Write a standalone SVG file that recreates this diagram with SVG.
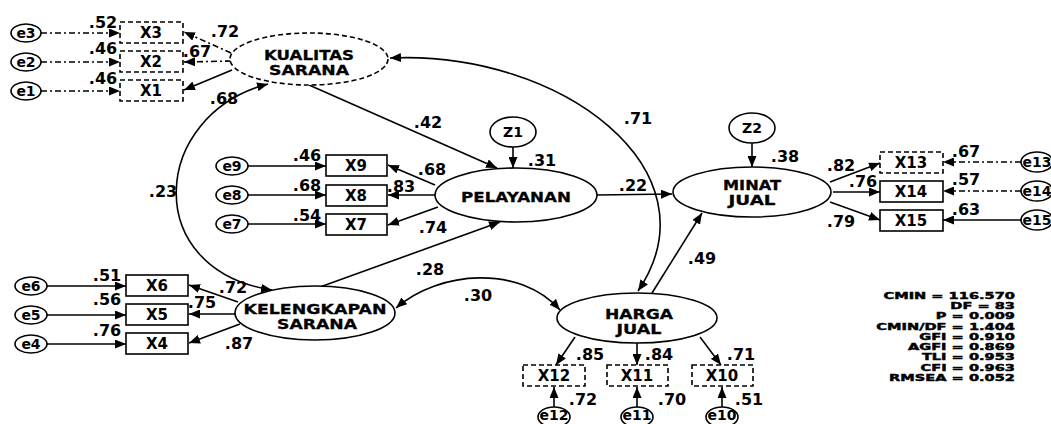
<svg xmlns="http://www.w3.org/2000/svg" width="1051" height="424" viewBox="0 0 1051 424">
<defs>
<marker id="ah" markerUnits="userSpaceOnUse" markerWidth="11" markerHeight="9" refX="11" refY="4.5" orient="auto-start-reverse">
<path d="M0,0 L11,4.5 L0,9 z" fill="#000"/>
</marker>
<style>
text{font-family:"DejaVu Sans","Liberation Sans",sans-serif;font-weight:bold;fill:#000;text-anchor:middle}
.lat{fill:#fff;stroke:#000;stroke-width:1.6}
.box{fill:#fff;stroke:#000;stroke-width:1.6}
.err{fill:#fff;stroke:#000;stroke-width:1.6}
.dash{stroke-dasharray:5 3}
.nl{font-size:14px;stroke:#000;stroke-width:0.3}
.bl{font-size:15px}
.el{font-size:14px}
.num{font-size:16px}
#conn path{fill:none;stroke:#000;stroke-width:1.6;marker-end:url(#ah)}
#conn path.dbl{marker-start:url(#ah)}
#conn path.d{stroke-dasharray:6 3 2 3}
#stats text{font-size:9px;text-anchor:end;stroke:#000;stroke-width:0.45}
</style>
</defs>
<rect width="1051" height="424" fill="#fff"/>

<g id="conn">
<path class="d" d="M41 33 L120 33"/>
<path class="d" d="M41 62 L120 62"/>
<path class="d" d="M41 91 L120 91"/>
<path class="d" d="M231 53 L184 32"/>
<path class="d" d="M231 61 L184 62"/>
<path d="M232 70 L184 90"/>
<path d="M309 85 L497 168"/>
<path d="M513 147 L513 168"/>
<path d="M248 166 L326 166"/>
<path d="M248 195 L326 195"/>
<path d="M248 224 L326 224"/>
<path d="M435 185 L388 165"/>
<path d="M435 195 L388 195"/>
<path d="M438 207 L388 225"/>
<path d="M597 195 L672 194"/>
<path d="M752 143 L752 167"/>
<path d="M830 182 L880 163"/>
<path d="M833 192 L880 192"/>
<path d="M830 202 L880 220"/>
<path class="d" d="M1021 162 L943 162"/>
<path class="d" d="M1021 191 L943 191"/>
<path d="M1021 220 L943 220"/>
<path d="M652 293 L702 213"/>
<path class="dbl" d="M390 58 C560 50 720 170 638 291"/>
<path class="dbl" d="M268 84 C150 115 140 270 272 290"/>
<path d="M320 287 L500 222"/>
<path class="dbl" d="M396 308 C440 270 520 265 560 310"/>
<path d="M238 302 L189 285"/>
<path d="M235 314 L189 314"/>
<path d="M240 324 L189 343"/>
<path d="M47 286 L126 286"/>
<path d="M47 315 L126 315"/>
<path d="M47 344 L126 344"/>
<path d="M575 337 L556 365"/>
<path d="M637 343 L637 365"/>
<path d="M700 337 L721 365"/>
<path d="M554 407 L554 387"/>
<path d="M637 407 L637 387"/>
<path d="M722 407 L722 387"/>
</g>

<g id="kualitas"><ellipse class="lat dash" cx="309" cy="59" rx="79" ry="26"/><text class="nl" x="309" y="60" textLength="90" lengthAdjust="spacingAndGlyphs">KUALITAS</text><text class="nl" x="309" y="75" textLength="80" lengthAdjust="spacingAndGlyphs">SARANA</text></g>
<g id="pelayanan"><ellipse class="lat" cx="516" cy="195" rx="81" ry="27"/><text class="nl" x="516" y="202" textLength="110" lengthAdjust="spacingAndGlyphs">PELAYANAN</text></g>
<g id="minat"><ellipse class="lat" cx="752" cy="192" rx="79" ry="25"/><text class="nl" x="752" y="190" textLength="58" lengthAdjust="spacingAndGlyphs">MINAT</text><text class="nl" x="752" y="205" textLength="47" lengthAdjust="spacingAndGlyphs">JUAL</text></g>
<g id="kelengkapan"><ellipse class="lat" cx="315" cy="313" rx="80" ry="27"/><text class="nl" x="315" y="314" textLength="143" lengthAdjust="spacingAndGlyphs">KELENGKAPAN</text><text class="nl" x="317" y="329" textLength="80" lengthAdjust="spacingAndGlyphs">SARANA</text></g>
<g id="harga"><ellipse class="lat" cx="637" cy="318" rx="80" ry="25"/><text class="nl" x="639" y="319" textLength="68" lengthAdjust="spacingAndGlyphs">HARGA</text><text class="nl" x="639" y="334" textLength="45" lengthAdjust="spacingAndGlyphs">JUAL</text></g>

<g id="z1"><ellipse class="err" cx="513" cy="132" rx="23" ry="15"/><text class="el" x="513" y="137">Z1</text></g>
<g id="z2"><ellipse class="err" cx="752" cy="128" rx="23" ry="15"/><text class="el" x="752" y="133">Z2</text></g>

<g id="x3"><rect class="box dash" x="120" y="22" width="63" height="21"/><text class="bl" x="151" y="38">X3</text></g>
<g id="x2"><rect class="box dash" x="120" y="51" width="63" height="21"/><text class="bl" x="151" y="67">X2</text></g>
<g id="x1"><rect class="box dash" x="120" y="80" width="63" height="21"/><text class="bl" x="151" y="96">X1</text></g>
<g id="e3"><ellipse class="err" cx="26" cy="33" rx="15" ry="9"/><text class="el" x="26" y="38">e3</text></g>
<g id="e2"><ellipse class="err" cx="26" cy="62" rx="15" ry="9"/><text class="el" x="26" y="67">e2</text></g>
<g id="e1"><ellipse class="err" cx="26" cy="91" rx="15" ry="9"/><text class="el" x="26" y="96">e1</text></g>

<g id="x9"><rect class="box" x="326" y="155" width="61" height="21"/><text class="bl" x="356" y="171">X9</text></g>
<g id="x8"><rect class="box" x="326" y="185" width="61" height="21"/><text class="bl" x="356" y="201">X8</text></g>
<g id="x7"><rect class="box" x="326" y="214" width="61" height="21"/><text class="bl" x="356" y="230">X7</text></g>
<g id="e9"><ellipse class="err" cx="232" cy="166" rx="16" ry="9"/><text class="el" x="232" y="171">e9</text></g>
<g id="e8"><ellipse class="err" cx="232" cy="195" rx="16" ry="9"/><text class="el" x="232" y="200">e8</text></g>
<g id="e7"><ellipse class="err" cx="232" cy="224" rx="16" ry="9"/><text class="el" x="232" y="229">e7</text></g>

<g id="x13"><rect class="box dash" x="880" y="152" width="63" height="21"/><text class="bl" x="911" y="168">X13</text></g>
<g id="x14"><rect class="box" x="880" y="181" width="63" height="21"/><text class="bl" x="911" y="197">X14</text></g>
<g id="x15"><rect class="box" x="880" y="210" width="63" height="21"/><text class="bl" x="911" y="226">X15</text></g>
<g id="e13"><ellipse class="err" cx="1037" cy="162" rx="16" ry="10"/><text class="el" x="1037" y="167">e13</text></g>
<g id="e14"><ellipse class="err" cx="1037" cy="191" rx="16" ry="10"/><text class="el" x="1037" y="196">e14</text></g>
<g id="e15"><ellipse class="err" cx="1037" cy="220" rx="16" ry="10"/><text class="el" x="1037" y="225">e15</text></g>

<g id="x6"><rect class="box" x="126" y="275" width="62" height="21"/><text class="bl" x="157" y="291">X6</text></g>
<g id="x5"><rect class="box" x="126" y="304" width="62" height="21"/><text class="bl" x="157" y="320">X5</text></g>
<g id="x4"><rect class="box" x="126" y="333" width="62" height="21"/><text class="bl" x="157" y="349">X4</text></g>
<g id="e6"><ellipse class="err" cx="31" cy="286" rx="16" ry="9"/><text class="el" x="31" y="291">e6</text></g>
<g id="e5"><ellipse class="err" cx="31" cy="315" rx="16" ry="9"/><text class="el" x="31" y="320">e5</text></g>
<g id="e4"><ellipse class="err" cx="31" cy="344" rx="16" ry="9"/><text class="el" x="31" y="349">e4</text></g>

<g id="x12"><rect class="box dash" x="523" y="365" width="62" height="21"/><text class="bl" x="554" y="381">X12</text></g>
<g id="x11"><rect class="box dash" x="607" y="365" width="61" height="21"/><text class="bl" x="637" y="381">X11</text></g>
<g id="x10"><rect class="box dash" x="692" y="365" width="61" height="21"/><text class="bl" x="722" y="381">X10</text></g>
<g id="e12"><ellipse class="err" cx="554" cy="417" rx="16" ry="10"/><text class="el" x="554" y="420">e12</text></g>
<g id="e11"><ellipse class="err" cx="637" cy="417" rx="16" ry="10"/><text class="el" x="637" y="420">e11</text></g>
<g id="e10"><ellipse class="err" cx="722" cy="417" rx="16" ry="10"/><text class="el" x="722" y="420">e10</text></g>

<g id="labels">
<text class="num" x="103" y="28">.52</text>
<text class="num" x="103" y="54">.46</text>
<text class="num" x="103" y="84">.46</text>
<text class="num" x="225" y="37">.72</text>
<text class="num" x="197" y="57">.67</text>
<text class="num" x="224" y="104">.68</text>
<text class="num" x="163" y="197">.23</text>
<text class="num" x="428" y="128">.42</text>
<text class="num" x="307" y="161">.46</text>
<text class="num" x="307" y="191">.68</text>
<text class="num" x="307" y="221">.54</text>
<text class="num" x="432" y="175">.68</text>
<text class="num" x="401" y="192">.83</text>
<text class="num" x="433" y="233">.74</text>
<text class="num" x="542" y="166">.31</text>
<text class="num" x="633" y="191">.22</text>
<text class="num" x="638" y="124">.71</text>
<text class="num" x="785" y="162">.38</text>
<text class="num" x="841" y="171">.82</text>
<text class="num" x="863" y="187">.76</text>
<text class="num" x="841" y="227">.79</text>
<text class="num" x="966" y="157">.67</text>
<text class="num" x="966" y="185">.57</text>
<text class="num" x="966" y="215">.63</text>
<text class="num" x="702" y="264">.49</text>
<text class="num" x="430" y="275">.28</text>
<text class="num" x="478" y="301">.30</text>
<text class="num" x="107" y="281">.51</text>
<text class="num" x="107" y="305">.56</text>
<text class="num" x="107" y="336">.76</text>
<text class="num" x="233" y="293">.72</text>
<text class="num" x="202" y="308">.75</text>
<text class="num" x="239" y="349">.87</text>
<text class="num" x="590" y="360">.85</text>
<text class="num" x="659" y="360">.84</text>
<text class="num" x="741" y="360">.71</text>
<text class="num" x="583" y="405">.72</text>
<text class="num" x="672" y="405">.70</text>
<text class="num" x="749" y="405">.51</text>
</g>

<g id="stats" transform="translate(1015 0) scale(1.62 1)">
<text x="0" y="299">CMIN = 116.570</text>
<text x="0" y="309.25">DF = 83</text>
<text x="0" y="319.5">P = 0.009</text>
<text x="0" y="329.75">CMIN/DF = 1.404</text>
<text x="0" y="340">GFI = 0.910</text>
<text x="0" y="350.25">AGFI = 0.869</text>
<text x="0" y="360.5">TLI = 0.953</text>
<text x="0" y="370.75">CFI = 0.963</text>
<text x="0" y="381">RMSEA = 0.052</text>
</g>
</svg>
